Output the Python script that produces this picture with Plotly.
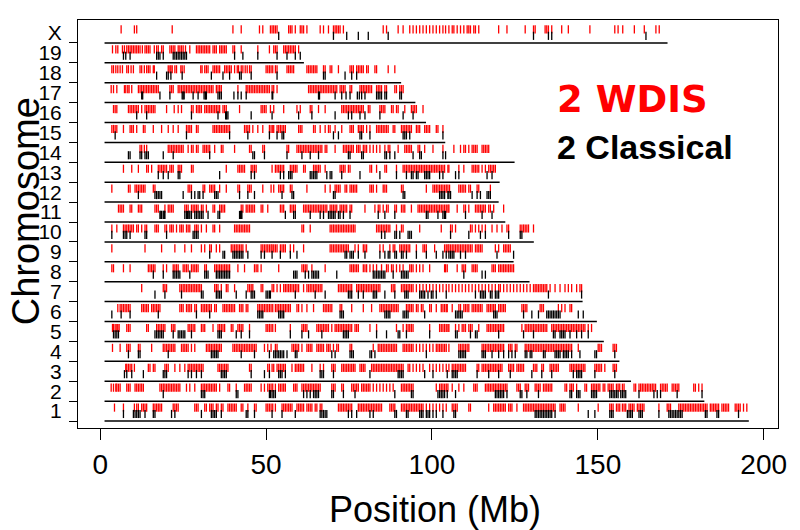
import plotly.graph_objects as go

CHROMS = ["1", "2", "3", "4", "5", "6", "7", "8", "9", "10",
          "11", "12", "13", "14", "15", "16", "17", "18", "19", "X"]
CHROM_LEN = [195.5, 182.1, 160.0, 156.5, 151.8, 149.7, 145.4, 129.4, 124.6, 130.7,
             122.1, 120.1, 120.4, 124.9, 104.0, 98.2, 95.0, 90.7, 61.4, 171.0]
START_MB = 1.3
X_TICKS = [0, 50, 100, 150, 200]

# ---- 2 WDIS (red) positions, Mb ----
W1 = [4.3, 7.0, 10.3, 11.0, 11.5, 12.5, 13.0, 13.5, 14.0, 16.0, 16.5, 17.0, 17.5, 18.0, 18.5, 22.0, 22.5, 23.0, 23.5,
      28.5, 29.0, 29.5, 31.5, 32.0, 33.0, 33.5, 34.0, 35.0, 35.5, 36.5, 37.0, 38.5, 39.0, 39.5, 40.0, 40.5, 41.0,
      42.5, 43.0, 44.5, 46.5, 47.0, 50.0, 50.5, 51.0, 51.5, 52.0, 52.8, 54.8, 55.3, 55.8, 56.3, 56.8, 57.3, 57.8,
      59.3, 59.8, 60.3, 60.8, 61.3, 62.3, 62.8, 63.3, 63.8, 64.8, 65.3, 66.3, 66.8, 71.8, 72.3, 72.8, 73.3, 73.8,
      74.3, 74.8, 75.3, 75.8, 77.8, 78.3, 78.8, 79.3, 79.8, 80.3, 80.8, 81.3, 81.8, 82.3, 82.8, 83.3, 83.8, 84.3,
      84.8, 87.3, 87.8, 88.3, 88.8, 90.8, 91.3, 91.8, 92.3, 92.8, 93.3, 93.8, 94.3, 94.8, 95.3, 95.8, 96.3, 96.8,
      97.3, 98.3, 99.3, 100.3, 101.3, 102.3, 103.3, 104.3, 106.1, 106.6, 107.1, 107.6, 111.1, 111.6, 117.1, 118.6,
      119.1, 119.6, 120.1, 120.6, 121.1, 121.6, 122.1, 123.1, 123.6, 124.1, 125.6, 127.6, 128.1, 128.6, 129.1,
      129.6, 130.1, 130.6, 131.1, 131.6, 132.1, 132.6, 133.1, 133.6, 134.1, 134.6, 135.1, 135.6, 136.1, 136.6,
      137.1, 138.6, 139.1, 139.6, 140.1, 144.1, 150.1, 153.6, 154.1, 154.6, 155.6, 156.1, 156.6, 157.4, 157.9,
      158.4, 159.4, 159.9, 160.4, 160.9, 161.9, 162.4, 162.9, 163.4, 163.9, 168.4, 170.9, 171.4, 171.9, 174.4,
      174.9, 175.4, 175.9, 176.4, 176.9, 177.4, 177.9, 178.4, 178.9, 179.4, 179.9, 180.4, 180.9, 181.4, 181.9,
      182.4, 182.9, 183.9, 184.4, 184.9, 185.4, 185.9, 186.4, 187.4, 187.9, 188.4, 188.9, 189.4, 191.4, 191.9,
      192.4, 192.9, 193.9, 194.9]
W2 = [3.3, 4.0, 4.7, 5.0, 5.5, 6.0, 8.0, 8.5, 9.0, 10.5, 11.0, 11.5, 12.0, 12.5, 13.0, 18.0, 18.5, 19.0, 19.5,
      20.0, 20.5, 21.0, 21.5, 22.0, 22.5, 23.0, 23.5, 24.0, 26.0, 27.0, 28.5, 30.5, 31.0, 31.5, 32.0, 32.5, 33.0,
      33.5, 34.0, 34.5, 35.0, 36.0, 38.5, 39.0, 41.0, 43.5, 44.0, 44.5, 45.0, 45.5, 48.5, 49.5, 50.5, 51.0, 51.5,
      52.0, 52.8, 53.8, 54.3, 54.8, 55.3, 55.8, 58.3, 58.8, 59.3, 60.8, 61.3, 61.8, 62.3, 62.8, 63.3, 63.8, 64.3,
      64.8, 65.3, 65.8, 66.3, 69.8, 70.3, 70.8, 72.8, 73.3, 75.8, 76.3, 76.8, 77.3, 77.8, 78.8, 79.3, 79.8, 80.3,
      80.8, 81.3, 82.3, 83.3, 84.3, 85.3, 86.3, 87.3, 88.3, 90.8, 91.3, 91.8, 92.3, 92.8, 93.3, 93.8, 94.3,
      101.3, 102.3, 102.8, 103.3, 103.8, 104.3, 104.8, 106.1, 108.1, 109.6, 112.6, 113.1, 113.6, 116.1, 116.6,
      117.1, 117.6, 118.1, 118.6, 119.1, 119.6, 120.1, 120.6, 121.1, 121.6, 122.1, 122.6, 125.6, 126.1, 126.6,
      128.1, 128.6, 129.1, 131.1, 131.6, 132.1, 132.6, 133.6, 134.1, 134.6, 135.1, 135.6, 136.1, 140.1, 140.6,
      141.6, 142.1, 142.6, 143.6, 146.1, 146.6, 148.1, 148.6, 149.1, 149.6, 150.1, 150.6, 151.6, 152.1, 153.1,
      153.6, 154.1, 154.6, 155.6, 156.1, 156.6, 157.4, 157.9, 160.9, 161.4, 162.4, 162.9, 163.4, 163.9, 164.4,
      164.9, 165.4, 165.9, 166.4, 166.9, 167.4, 168.9, 169.4, 169.9, 170.4, 170.9, 172.4, 172.9, 173.4, 173.9,
      174.4, 178.9, 179.4, 180.4, 181.4]
W3 = [7.7, 8.0, 8.5, 9.0, 9.5, 10.3, 14.5, 15.0, 16.0, 16.5, 19.5, 20.0, 20.5, 22.5, 24.0, 25.5, 26.5, 27.0, 27.5,
      28.0, 28.5, 29.0, 29.5, 30.0, 30.5, 31.0, 35.5, 36.0, 36.5, 37.0, 37.5, 38.0, 38.5, 45.0, 45.5, 50.5, 51.0,
      51.8, 52.3, 53.3, 53.8, 54.3, 54.8, 55.3, 55.8, 57.8, 58.8, 59.3, 59.8, 60.3, 60.8, 61.3, 63.8, 66.3, 67.3,
      69.8, 70.3, 70.8, 72.8, 73.3, 73.8, 74.3, 74.8, 75.3, 75.8, 76.3, 76.8, 78.3, 78.8, 79.3, 79.8, 81.8, 82.3,
      82.8, 83.3, 83.8, 84.3, 84.8, 85.3, 85.8, 86.3, 86.8, 87.3, 87.8, 88.3, 88.8, 89.3, 89.8, 90.3, 90.8, 91.3,
      92.8, 93.3, 94.3, 95.3, 96.3, 97.3, 99.3, 100.3, 101.3, 102.3, 103.3, 104.3, 105.1, 106.1, 106.6, 107.1,
      107.6, 108.1, 108.6, 109.1, 109.6, 110.1, 113.6, 114.1, 115.1, 115.6, 116.1, 116.6, 117.1, 117.6, 118.1,
      118.6, 119.1, 119.6, 120.1, 120.6, 121.1, 123.1, 123.6, 124.1, 124.6, 125.6, 126.1, 126.6, 127.1, 127.6,
      130.6, 131.1, 131.6, 133.1, 133.6, 135.6, 136.1, 136.6, 137.1, 137.6, 138.1, 141.6, 142.1, 142.6, 143.1,
      143.6, 144.1, 144.6, 145.1, 145.6, 146.1, 149.1, 149.6, 150.1, 150.6, 151.1, 152.1, 154.6, 155.1, 155.6]
W4 = [3.7, 6.0, 8.0, 8.5, 9.0, 11.5, 12.0, 15.5, 19.0, 19.5, 20.0, 20.5, 21.0, 21.5, 22.0, 22.5, 24.5, 25.0, 25.5,
      26.0, 26.5, 27.5, 28.5, 32.0, 32.5, 33.0, 33.5, 34.0, 34.5, 35.0, 35.5, 36.0, 36.5, 40.0, 40.5, 41.0, 41.5,
      42.0, 42.5, 43.0, 43.5, 44.0, 44.5, 45.0, 45.5, 46.0, 46.5, 47.0, 49.5, 50.5, 51.5, 52.8, 53.3, 57.8, 58.3,
      58.8, 59.3, 59.8, 60.8, 62.3, 62.8, 63.3, 63.8, 65.3, 65.8, 66.3, 66.8, 67.3, 68.3, 68.8, 69.3, 70.3, 71.3,
      71.8, 75.3, 75.8, 82.3, 83.8, 84.3, 84.8, 85.3, 85.8, 86.3, 86.8, 87.3, 87.8, 88.3, 88.8, 89.3, 91.3, 91.8,
      92.3, 92.8, 93.3, 93.8, 94.3, 95.3, 96.3, 97.3, 98.3, 99.3, 100.3, 101.3, 101.8, 102.3, 102.8, 103.3, 103.8,
      104.3, 105.1, 108.1, 108.6, 109.1, 109.6, 110.1, 110.6, 111.1, 115.1, 115.6, 116.1, 116.6, 117.1, 117.6,
      118.1, 118.6, 119.1, 119.6, 120.1, 120.6, 121.1, 121.6, 123.1, 123.6, 124.1, 125.1, 125.6, 128.1, 128.6,
      129.1, 129.6, 130.1, 130.6, 131.1, 131.6, 132.1, 132.6, 133.1, 133.6, 134.1, 134.6, 135.1, 135.6, 136.1,
      136.6, 137.1, 137.6, 138.1, 138.6, 139.1, 139.6, 140.1, 140.6, 141.1, 141.6, 142.1, 144.1, 150.1, 150.6,
      151.1, 154.6, 155.1, 155.6]
W5 = [3.7, 4.0, 4.5, 5.0, 5.3, 5.7, 8.0, 8.5, 9.0, 14.0, 14.5, 17.0, 17.5, 18.0, 18.5, 19.0, 19.5, 21.5, 22.0, 22.5,
      26.5, 27.0, 27.5, 28.0, 28.5, 30.5, 31.0, 31.5, 34.0, 35.5, 36.0, 36.5, 37.0, 37.5, 39.5, 40.0, 41.5, 42.0,
      42.5, 43.0, 45.0, 50.0, 50.5, 51.0, 51.5, 52.0, 52.8, 57.3, 60.8, 61.3, 61.8, 62.3, 65.3, 65.8, 66.3, 66.8,
      67.3, 67.8, 68.3, 68.8, 69.8, 70.8, 71.3, 71.8, 72.3, 72.8, 73.3, 73.8, 74.3, 74.8, 75.3, 75.8, 76.8, 77.3,
      77.8, 81.3, 83.3, 89.3, 91.3, 92.3, 92.8, 93.3, 93.8, 94.3, 99.3, 102.3, 102.8, 103.3, 103.8, 104.3, 104.8,
      105.1, 107.1, 108.1, 109.1, 109.6, 110.1, 111.1, 111.6, 112.1, 114.1, 116.6, 117.1, 117.6, 118.1, 118.6,
      119.1, 119.6, 120.1, 120.6, 121.1, 121.6, 127.1, 128.1, 128.6, 129.1, 129.6, 130.1, 130.6, 131.1, 131.6,
      132.1, 132.6, 133.1, 133.6, 134.1, 134.6, 136.1, 136.6, 137.1, 137.6, 138.1, 138.6, 139.1, 139.6, 140.1,
      140.6, 141.1, 141.6, 142.1, 142.6, 143.1, 143.6, 144.1, 144.6, 145.1, 145.6, 146.1, 147.1, 148.1]
W6 = [5.3, 6.0, 6.5, 7.0, 7.5, 8.0, 8.5, 9.0, 12.5, 13.0, 13.5, 14.0, 14.5, 15.5, 16.0, 16.5, 17.0, 17.5, 18.0, 24.0,
      24.5, 25.0, 26.0, 26.5, 27.0, 27.5, 28.5, 29.0, 30.5, 31.0, 31.5, 32.0, 32.5, 33.0, 33.5, 34.5, 35.0, 37.0,
      37.5, 38.0, 38.5, 39.0, 39.5, 40.0, 40.5, 42.0, 42.5, 43.0, 44.0, 44.5, 47.5, 48.0, 48.5, 49.0, 49.5, 50.0,
      50.5, 51.0, 51.5, 52.0, 52.8, 53.3, 53.8, 54.3, 54.8, 55.3, 55.8, 56.3, 56.8, 57.3, 59.3, 59.8, 60.8, 62.3,
      64.3, 67.3, 67.8, 68.3, 68.8, 69.3, 69.8, 72.3, 72.8, 75.8, 79.3, 81.8, 84.3, 84.8, 85.3, 85.8, 86.3, 86.8,
      87.3, 87.8, 88.3, 88.8, 89.3, 89.8, 92.3, 92.8, 93.3, 93.8, 94.3, 95.3, 95.8, 96.8, 97.3, 99.3, 99.8, 101.3,
      102.8, 103.3, 103.8, 104.3, 104.6, 106.1, 108.1, 108.6, 109.6, 110.1, 110.6, 111.1, 112.1, 112.6, 113.1,
      113.6, 114.1, 114.6, 115.1, 116.6, 117.1, 117.6, 118.1, 118.6, 119.1, 120.1, 120.6, 121.1, 121.6, 122.1,
      127.1, 127.6, 128.1, 128.6, 132.6, 133.1, 133.6, 138.1, 139.1, 140.1, 141.6, 142.1]
W7 = [12.5, 19.0, 19.5, 20.0, 24.0, 24.5, 25.0, 25.5, 26.0, 26.5, 27.0, 27.5, 28.0, 28.5, 29.0, 29.5, 30.0, 30.5,
      34.5, 35.0, 35.5, 36.5, 38.0, 38.5, 40.5, 44.5, 45.0, 45.5, 46.0, 48.5, 49.0, 51.8, 52.3, 53.3, 54.3, 55.3,
      55.8, 56.3, 56.8, 57.3, 57.8, 58.3, 58.8, 59.3, 59.8, 61.3, 62.3, 62.8, 63.3, 63.8, 64.3, 64.8, 65.3, 65.8,
      66.3, 66.8, 71.8, 72.3, 72.8, 73.3, 73.8, 74.3, 74.8, 75.3, 75.8, 77.3, 77.8, 78.3, 78.8, 79.3, 79.8, 80.3,
      80.8, 81.3, 81.8, 82.3, 82.8, 83.3, 83.8, 84.3, 87.8, 88.3, 88.8, 90.8, 91.3, 91.8, 92.3, 92.8, 93.3, 93.8,
      94.3, 95.3, 96.3, 97.3, 98.3, 99.3, 100.3, 101.3, 102.3, 103.3, 104.3, 105.1, 106.1, 107.1, 108.1, 109.1,
      110.1, 111.1, 112.1, 113.1, 114.1, 115.1, 116.1, 117.1, 118.1, 119.1, 120.1, 120.6, 121.6, 122.6, 123.6,
      124.6, 125.6, 126.6, 127.6, 128.6, 129.6, 130.6, 131.1, 131.6, 132.1, 132.6, 133.1, 133.6, 134.1, 134.6,
      135.6, 137.1, 138.6, 140.1, 141.1, 142.1, 143.6, 144.6, 145.1]
W8 = [3.5, 4.0, 7.0, 9.0, 14.5, 15.0, 15.5, 16.0, 16.5, 19.0, 20.0, 22.0, 22.5, 23.0, 23.5, 25.0, 25.5, 26.0, 26.5,
      27.5, 28.0, 28.5, 29.0, 29.5, 31.5, 32.0, 34.5, 35.0, 35.5, 36.0, 36.5, 37.0, 37.5, 38.0, 38.5, 39.0, 41.5,
      43.5, 46.5, 47.0, 47.5, 48.5, 53.8, 60.8, 61.3, 61.8, 62.3, 63.8, 67.8, 75.3, 75.8, 76.3, 76.8, 77.3, 77.8,
      79.3, 79.8, 80.3, 81.3, 82.3, 83.3, 84.8, 86.3, 86.8, 87.8, 88.3, 89.3, 90.3, 91.3, 93.3, 93.8, 94.3, 95.3,
      96.3, 97.3, 99.3, 103.8, 104.1, 104.6, 107.6, 109.1, 109.6, 110.1, 112.1, 112.6, 113.1, 113.6, 118.1, 118.6,
      119.1, 120.1, 120.6, 121.1, 121.6, 122.1, 122.6, 123.1, 123.6, 124.1, 124.6]
W9 = [3.5, 13.5, 18.5, 22.5, 25.5, 27.5, 30.5, 31.5, 33.0, 33.5, 35.0, 36.0, 39.5, 40.0, 40.5, 41.0, 41.5, 42.0,
      42.5, 43.0, 44.0, 48.5, 49.0, 49.5, 50.0, 50.5, 51.0, 51.5, 51.8, 52.3, 52.8, 53.3, 54.3, 54.8, 55.3, 55.8,
      57.3, 58.3, 61.3, 69.3, 69.8, 70.3, 70.8, 71.3, 71.8, 72.3, 72.8, 73.3, 73.8, 74.3, 74.8, 76.8, 77.8, 79.3,
      79.8, 80.3, 84.3, 85.3, 87.3, 88.3, 88.8, 90.3, 90.8, 91.3, 91.8, 92.3, 92.8, 93.3, 95.3, 97.3, 97.8, 98.3,
      100.8, 103.8, 104.3, 104.8, 105.1, 105.6, 106.1, 106.6, 107.1, 107.6, 108.1, 108.6, 109.1, 109.6, 110.1,
      110.6, 111.1, 111.6, 112.1, 113.1, 113.6, 114.1, 114.6, 115.1, 119.1, 120.1, 121.6, 122.1, 122.6, 123.1,
      123.6]
W10 = [3.5, 5.0, 7.0, 7.5, 8.0, 8.5, 9.0, 9.5, 10.0, 11.0, 11.5, 12.5, 13.5, 14.0, 16.5, 17.0, 17.5, 19.5, 20.0,
       21.0, 21.5, 22.0, 23.0, 24.0, 24.5, 25.0, 26.0, 26.5, 27.0, 28.5, 29.0, 29.5, 30.5, 32.0, 34.0, 34.5, 36.0,
       40.5, 41.0, 41.5, 42.0, 42.5, 43.0, 43.5, 44.0, 44.5, 45.0, 60.8, 61.3, 63.3, 69.3, 69.8, 70.3, 70.8, 71.3,
       71.8, 72.3, 72.8, 73.3, 73.8, 74.3, 74.8, 75.3, 75.8, 76.3, 76.8, 83.3, 83.8, 84.3, 84.8, 85.3, 85.8, 86.3,
       86.8, 87.3, 89.3, 90.8, 91.3, 96.3, 102.8, 105.6, 106.1, 107.1, 111.6, 112.1, 113.1, 114.1, 115.1, 116.1,
       118.1, 119.6, 121.1, 122.6, 123.1, 126.6, 127.1, 127.6, 128.1, 128.6, 129.1, 130.6]
W11 = [5.5, 6.0, 6.5, 7.0, 9.0, 9.5, 11.5, 12.0, 12.5, 16.5, 17.0, 17.5, 19.5, 20.5, 21.0, 21.5, 22.0, 25.5, 26.0,
       26.5, 27.5, 28.0, 28.5, 29.0, 29.5, 30.5, 31.0, 32.0, 34.0, 34.5, 36.0, 36.5, 37.0, 37.5, 42.5, 43.0, 44.0,
       44.5, 45.0, 45.5, 46.0, 46.5, 48.5, 49.0, 50.5, 54.3, 54.8, 55.3, 57.3, 57.8, 58.3, 58.8, 61.3, 61.8, 62.3,
       62.8, 63.3, 63.8, 64.3, 64.8, 65.3, 65.8, 66.3, 66.8, 67.3, 67.8, 68.3, 69.3, 69.8, 70.3, 70.8, 71.3, 72.3,
       72.8, 73.3, 73.8, 74.3, 75.3, 75.8, 79.8, 82.8, 83.8, 84.3, 85.3, 86.3, 86.8, 88.8, 89.3, 90.8, 91.3, 91.8,
       93.8, 95.8, 96.3, 96.8, 97.3, 97.8, 98.3, 98.8, 99.3, 99.8, 100.3, 100.8, 101.3, 101.8, 102.3, 102.8, 103.3,
       103.8, 104.3, 104.8, 105.1, 107.6, 109.6, 110.1, 111.1, 113.1, 113.6, 114.1, 114.6, 115.1, 115.6, 116.1,
       117.1, 117.6, 118.6, 121.6]
W12 = [3.5, 8.5, 9.0, 10.5, 11.0, 11.5, 12.0, 12.5, 13.0, 13.5, 16.0, 16.5, 26.5, 27.0, 27.5, 31.0, 31.5, 33.0,
       33.5, 34.0, 34.5, 36.0, 38.0, 41.5, 42.0, 44.5, 45.0, 45.5, 49.0, 51.5, 52.3, 53.8, 54.3, 54.8, 55.3, 57.3,
       57.8, 62.3, 67.8, 69.3, 70.8, 71.3, 71.8, 72.3, 73.8, 74.3, 75.3, 75.8, 76.3, 76.8, 77.3, 81.3, 81.8, 82.3,
       83.3, 85.3, 85.8, 86.3, 90.8, 91.3, 98.3, 100.3, 100.8, 101.3, 101.8, 102.3, 102.8, 103.3, 103.8, 104.3,
       104.8, 105.3, 108.1, 108.6, 109.1, 109.6, 110.1, 111.1, 111.6, 113.6, 114.1, 117.6]
W13 = [7.0, 9.5, 11.5, 14.0, 14.5, 15.5, 17.5, 18.0, 18.5, 19.0, 19.5, 20.0, 21.0, 21.5, 22.0, 23.5, 24.0, 24.5,
       27.5, 28.0, 38.0, 41.5, 42.0, 42.5, 43.0, 43.5, 45.5, 46.0, 46.5, 47.0, 51.8, 52.8, 53.3, 53.8, 54.3, 54.8,
       55.3, 57.3, 57.8, 58.3, 58.8, 59.3, 61.3, 61.8, 64.3, 64.8, 65.3, 65.8, 66.3, 67.8, 72.3, 72.8, 73.3, 73.8,
       74.8, 75.3, 81.3, 81.8, 83.3, 85.8, 86.3, 89.3, 91.3, 91.8, 92.3, 92.8, 93.3, 93.8, 94.3, 94.8, 95.3, 95.8,
       96.3, 96.8, 97.3, 97.8, 98.3, 98.8, 99.3, 99.8, 100.3, 100.8, 101.3, 101.8, 102.3, 102.8, 103.3, 103.8,
       104.8, 105.1, 108.1, 109.6, 112.1, 112.6, 113.1, 113.6, 114.1, 115.1, 116.1, 117.1, 117.6, 118.1, 118.6,
       119.1]
W14 = [12.0, 12.5, 13.3, 14.0, 20.5, 21.0, 21.5, 22.0, 22.5, 23.0, 23.5, 24.0, 24.5, 25.0, 26.5, 27.5, 28.0, 29.0,
       29.5, 31.0, 31.5, 32.0, 32.5, 33.0, 34.5, 36.5, 37.0, 40.5, 45.0, 45.5, 49.0, 49.5, 56.3, 56.8, 59.3, 59.8,
       60.3, 60.8, 61.3, 61.8, 62.3, 62.8, 63.3, 63.8, 64.3, 64.8, 65.3, 65.8, 66.3, 66.8, 67.8, 68.3, 70.8, 73.3,
       73.8, 74.3, 74.8, 75.3, 75.8, 76.3, 77.3, 77.8, 78.3, 79.3, 79.8, 80.3, 81.3, 82.3, 83.3, 84.3, 85.8, 86.8,
       87.3, 89.8, 91.8, 92.3, 92.8, 93.3, 93.8, 95.8, 96.3, 97.8, 100.3, 103.3, 106.6, 108.6, 109.6, 110.1, 111.1,
       112.1, 112.6, 113.1, 113.6, 115.1, 115.6, 116.1, 116.6, 117.1]
W15 = [3.5, 4.0, 4.5, 5.0, 7.0, 9.0, 9.5, 10.0, 11.0, 13.0, 13.5, 16.0, 18.5, 20.5, 22.0, 23.5, 26.0, 26.5, 27.0,
       27.5, 29.0, 29.5, 34.0, 34.5, 35.0, 35.5, 36.0, 36.5, 37.0, 37.5, 38.0, 38.5, 39.0, 43.5, 44.0, 44.5, 45.0,
       46.0, 47.5, 49.0, 51.0, 51.5, 52.0, 52.3, 53.3, 53.8, 54.3, 54.8, 55.3, 55.8, 59.8, 60.3, 60.8, 64.3, 64.8,
       66.3, 67.8, 68.8, 69.3, 70.8, 72.8, 75.3, 75.8, 76.3, 77.8, 78.3, 78.8, 79.3, 80.3, 81.3, 83.3, 83.8, 84.3,
       84.8, 85.3, 85.8, 86.3, 86.8, 88.3, 88.8, 90.8, 91.3, 91.8, 92.3, 92.8, 93.3, 93.8, 95.3, 95.8, 96.3, 97.8,
       98.3, 98.8, 99.3, 101.3, 101.8, 103.3]
W16 = [4.0, 4.5, 5.0, 8.5, 9.0, 9.5, 10.0, 10.5, 11.0, 11.5, 12.5, 13.5, 14.0, 14.5, 15.0, 15.5, 16.0, 16.5, 20.0,
       22.3, 23.5, 24.5, 27.5, 28.0, 29.0, 29.5, 30.0, 30.5, 31.5, 32.0, 32.5, 33.0, 33.5, 34.0, 34.5, 35.0, 35.5,
       36.0, 37.0, 37.5, 38.0, 42.0, 48.5, 49.0, 49.5, 50.0, 51.3, 52.3, 55.3, 59.3, 60.3, 63.3, 63.8, 65.8, 67.8,
       72.8, 73.3, 73.8, 74.3, 74.8, 75.3, 75.8, 76.3, 76.8, 77.3, 77.8, 78.3, 78.8, 79.3, 80.8, 81.3, 84.3, 84.8,
       85.3, 85.8, 87.8, 88.3, 89.3, 89.8, 91.8, 93.8, 94.3, 94.8, 95.3, 97.3]
W17 = [3.3, 4.0, 5.0, 7.3, 7.7, 8.3, 8.7, 9.5, 11.5, 12.0, 12.5, 13.0, 13.5, 14.0, 14.5, 15.0, 15.5, 16.0, 16.5,
       17.0, 17.5, 21.0, 21.5, 22.0, 23.5, 24.0, 24.5, 25.0, 25.5, 26.0, 26.5, 27.0, 27.5, 28.0, 28.5, 29.0, 29.5,
       30.0, 30.5, 31.0, 31.5, 32.0, 32.5, 33.0, 33.5, 34.0, 35.0, 35.5, 36.0, 36.5, 41.5, 44.0, 44.5, 45.0, 45.5,
       46.0, 46.5, 47.0, 47.5, 48.0, 48.5, 49.0, 49.5, 50.0, 50.5, 51.0, 51.8, 52.3, 53.3, 62.8, 63.3, 63.8, 64.3,
       64.8, 65.3, 65.8, 66.3, 66.8, 67.3, 67.8, 68.3, 68.8, 69.3, 69.8, 70.3, 70.8, 71.3, 72.3, 72.8, 73.3, 73.8,
       75.3, 75.8, 78.3, 78.8, 79.3, 79.8, 80.3, 80.8, 81.3, 81.8, 83.3, 83.8, 84.3, 84.8, 85.8, 86.3, 88.8, 89.3,
       90.3, 90.8, 91.3]
W18 = [3.5, 4.0, 4.7, 5.3, 6.0, 6.7, 8.0, 8.5, 9.3, 10.0, 12.0, 12.5, 13.3, 14.0, 14.5, 15.0, 16.0, 16.3, 20.5,
       21.0, 21.3, 21.7, 22.5, 23.0, 24.3, 24.7, 25.3, 30.3, 30.7, 31.5, 32.0, 32.5, 34.0, 34.5, 35.0, 35.5, 36.0,
       37.5, 38.0, 38.5, 39.0, 39.5, 40.5, 41.3, 41.7, 42.5, 43.0, 43.7, 44.3, 45.0, 45.5, 50.0, 50.5, 51.0, 51.5,
       52.0, 52.8, 53.3, 56.3, 56.8, 57.3, 57.8, 58.3, 62.3, 62.8, 63.3, 63.8, 64.3, 64.8, 65.3, 67.3, 67.8, 69.3,
       69.8, 71.8, 75.3, 75.8, 76.3, 77.3, 77.8, 78.3, 78.8, 79.3, 80.3, 80.8, 82.8, 83.3, 86.8, 88.8]
W19 = [3.7, 4.7, 5.3, 6.7, 7.3, 8.0, 8.5, 9.0, 9.5, 10.0, 10.5, 11.0, 11.5, 12.0, 12.7, 13.5, 14.0, 14.5, 15.0,
       16.3, 17.0, 17.5, 18.5, 19.0, 21.0, 21.5, 22.0, 22.5, 23.5, 24.0, 24.5, 25.0, 25.7, 27.0, 29.0, 29.5, 30.0,
       30.5, 31.0, 31.5, 32.0, 32.5, 33.0, 34.0, 34.5, 35.0, 36.0, 36.5, 37.0, 37.5, 38.0, 40.0, 40.5, 42.5, 47.5,
       51.0, 52.3, 52.8, 53.3, 55.3, 55.8, 56.3, 56.8, 57.3, 57.8, 58.3, 58.8, 59.8]
WX = [6.3, 10.3, 11.0, 21.7, 40.0, 42.5, 48.0, 49.0, 51.3, 51.8, 52.3, 52.8, 53.3, 56.8, 57.3, 57.8, 58.8, 60.3,
      60.8, 61.3, 62.3, 66.3, 67.3, 68.8, 70.3, 70.8, 71.3, 71.8, 72.3, 73.3, 85.3, 86.3, 89.8, 91.3, 93.3, 94.3,
      95.3, 96.3, 97.3, 98.3, 99.3, 100.3, 101.3, 102.3, 103.3, 104.1, 105.1, 106.1, 106.6, 107.6, 108.6, 109.6,
      110.6, 111.1, 111.6, 112.6, 113.1, 114.1, 120.1, 122.6, 128.1, 130.6, 131.1, 134.1, 134.6, 135.1, 136.1,
      139.1, 141.1, 147.6, 155.1, 156.1, 157.5, 161.0, 164.0, 167.5, 168.5]

# ---- 2 Classical (black) positions, Mb ----
C1 = [7.0, 10.0, 10.5, 11.0, 11.5, 12.0, 13.5, 16.0, 16.5, 21.5, 22.5, 30.5, 33.5, 34.0, 34.5, 35.0, 36.5, 44.0,
      44.5, 46.5, 51.8, 54.8, 58.8, 66.3, 66.8, 67.3, 67.8, 68.3, 74.8, 75.8, 77.3, 81.3, 82.3, 88.8, 89.3, 92.3,
      92.8, 96.3, 96.8, 97.3, 98.3, 98.8, 99.3, 100.3, 101.3, 103.3, 106.6, 107.1, 131.1, 131.6, 132.1, 132.6,
      133.1, 133.6, 134.1, 134.6, 135.1, 135.6, 136.1, 137.1, 147.1, 149.1, 153.6, 154.1, 154.6, 158.9, 159.4,
      159.9, 160.4, 162.4, 162.9, 163.4, 168.4, 171.4, 171.9, 172.4, 172.9, 173.4, 173.9, 174.4, 174.9, 175.4,
      182.4, 182.9, 185.9, 186.4, 192.4]
C2 = [19.0, 30.5, 31.0, 31.5, 41.0, 41.5, 51.0, 51.3, 51.8, 52.3, 52.8, 61.3, 62.3, 63.3, 64.3, 64.8, 65.3, 65.8,
      69.8, 70.3, 73.3, 76.8, 88.8, 93.8, 94.3, 101.8, 102.3, 102.8, 103.3, 103.8, 104.6, 107.1, 119.1, 119.6,
      120.1, 120.6, 121.1, 121.6, 122.6, 126.6, 127.1, 128.6, 132.1, 141.6, 142.1, 143.6, 144.1, 144.6, 148.1,
      148.6, 149.1, 149.6, 153.6, 154.1, 154.6, 155.1, 155.6, 156.1, 156.9, 157.4, 157.9, 158.4, 162.4, 166.9,
      167.9, 168.9, 173.9, 181.4]
C3 = [7.3, 8.0, 9.5, 13.0, 19.0, 19.5, 20.0, 26.5, 27.5, 29.0, 30.5, 36.5, 37.0, 37.5, 38.0, 45.5, 49.5, 51.0,
      53.8, 54.3, 54.8, 55.8, 66.3, 66.8, 67.3, 70.3, 81.3, 89.8, 90.3, 90.8, 91.3, 97.8, 100.3, 104.6, 106.1,
      106.6, 107.1, 107.6, 113.6, 117.1, 120.1, 123.6, 130.1, 133.1, 136.1, 142.6, 143.6, 144.1, 144.6, 145.1,
      149.1, 155.1]
C4 = [8.5, 11.5, 12.0, 20.5, 33.5, 34.0, 34.5, 35.0, 35.5, 42.5, 46.5, 51.0, 52.3, 52.8, 53.3, 53.8, 54.3, 54.8,
      55.3, 56.3, 58.8, 59.3, 69.8, 70.8, 75.3, 75.8, 76.3, 81.3, 81.8, 82.8, 98.3, 108.1, 108.6, 109.1, 109.6,
      110.1, 115.1, 115.6, 116.1, 118.1, 120.1, 121.6, 123.1, 124.1, 125.1, 128.1, 128.6, 129.6, 130.1, 133.6,
      134.1, 137.1, 137.6, 138.1, 138.6, 139.6, 140.1, 140.6, 141.1, 142.1, 144.6, 149.1, 149.6, 155.1]
C5 = [4.0, 4.5, 5.0, 5.5, 16.5, 17.0, 17.5, 18.0, 18.5, 19.0, 22.0, 23.5, 24.0, 24.5, 25.0, 25.5, 27.5, 35.5, 36.0,
      36.5, 41.0, 42.5, 45.0, 57.3, 60.8, 62.8, 66.8, 73.3, 73.8, 74.3, 74.8, 83.3, 86.3, 89.8, 90.3, 92.3, 99.3,
      107.1, 107.6, 111.6, 113.1, 113.6, 120.1, 127.6, 130.6, 136.6, 137.1, 138.6, 139.1, 139.6, 140.1, 141.6,
      143.6, 145.1, 147.1]
C6 = [3.5, 6.3, 9.0, 17.5, 29.0, 33.0, 47.5, 48.0, 48.5, 49.0, 53.8, 54.3, 54.8, 55.3, 72.3, 72.8, 73.3, 85.8,
      86.3, 86.8, 87.3, 91.3, 91.8, 92.3, 92.8, 97.8, 107.1, 107.6, 108.1, 108.6, 109.1, 118.6, 119.1, 119.6,
      127.6, 130.1, 132.1, 134.6, 135.1, 135.6, 136.1, 136.6, 137.1, 137.6, 138.1, 138.6, 144.1, 145.6]
C7 = [16.5, 19.5, 24.5, 30.5, 31.0, 35.0, 35.5, 36.0, 36.5, 41.0, 44.0, 45.5, 46.0, 46.5, 50.0, 50.5, 51.0, 51.3,
      58.8, 64.8, 67.8, 74.8, 75.3, 75.8, 77.8, 79.3, 82.3, 82.8, 83.3, 85.8, 88.8, 91.8, 92.3, 92.8, 96.3, 96.8,
      97.3, 97.8, 98.8, 99.8, 100.3, 101.3, 104.3, 113.1, 114.6, 115.1, 115.6, 116.1, 117.6, 118.1, 119.1, 119.6,
      120.1, 135.1, 145.1]
C8 = [16.0, 19.0, 22.0, 22.5, 23.0, 23.5, 24.0, 27.0, 31.5, 32.0, 32.5, 35.0, 35.5, 36.0, 36.5, 37.0, 37.5, 38.0,
      38.5, 39.0, 58.3, 58.8, 59.3, 61.8, 62.8, 63.8, 64.3, 64.8, 65.3, 65.8, 71.3, 82.3, 82.8, 83.3, 83.8, 84.3,
      84.8, 85.3, 85.8, 88.3, 90.8, 91.3, 91.8, 92.3, 92.8, 109.6, 115.1, 116.1]
C9 = [33.0, 37.0, 37.5, 40.0, 40.5, 41.0, 41.5, 42.0, 42.5, 43.0, 44.5, 48.5, 49.5, 51.8, 54.3, 57.3, 59.3, 73.8,
      74.3, 75.3, 75.8, 76.3, 77.8, 79.8, 84.3, 85.8, 86.8, 87.3, 88.8, 89.3, 90.8, 91.3, 92.3, 95.3, 98.3, 101.3,
      103.3, 104.3, 105.1, 105.6, 106.1, 106.6, 108.6, 110.1, 119.6, 124.6]
C10 = [3.5, 7.0, 7.5, 8.0, 9.0, 13.5, 14.0, 20.0, 28.0, 28.5, 29.0, 29.5, 84.8, 85.8, 88.8, 89.3, 90.3, 92.8, 93.3,
       93.8, 105.6, 111.1, 114.6, 116.1, 123.1, 126.6, 127.1]
C11 = [18.0, 18.3, 18.5, 19.0, 19.3, 19.5, 25.5, 26.0, 26.3, 26.7, 27.0, 27.5, 28.5, 29.0, 29.5, 30.0, 30.5, 31.0,
       32.5, 35.5, 36.0, 42.0, 42.3, 42.5, 42.7, 55.8, 58.3, 58.8, 63.3, 66.3, 67.3, 68.8, 69.3, 69.8, 70.3, 70.8,
       71.8, 72.3, 73.3, 75.3, 83.8, 85.8, 88.8, 98.3, 98.8, 101.8, 103.3, 103.8, 104.1, 110.1, 115.1, 118.1]
C12 = [11.5, 16.5, 17.0, 17.5, 18.0, 18.5, 25.0, 27.5, 28.5, 29.5, 30.0, 31.0, 34.5, 35.0, 35.5, 42.0, 44.5, 46.5,
       54.8, 57.8, 58.3, 70.3, 70.8, 91.3, 91.8, 102.3, 102.8, 103.3, 103.8, 104.8, 105.1, 105.6, 112.1, 113.6,
       114.6, 116.6, 117.1, 117.6]
C13 = [17.5, 19.0, 20.5, 23.5, 24.0, 36.0, 45.5, 46.5, 54.3, 55.3, 56.8, 57.3, 57.8, 63.3, 63.8, 64.3, 64.8, 65.3,
       68.3, 69.3, 69.8, 72.8, 78.3, 84.3, 89.3, 92.3, 93.8, 94.3, 95.3, 95.8, 97.8, 98.3, 98.8, 99.3, 102.3, 103.3,
       107.1, 108.1, 116.6, 118.1]
C14 = [8.5, 9.0, 12.0, 12.5, 13.5, 14.0, 14.5, 19.0, 22.0, 33.0, 46.0, 46.5, 49.5, 56.3, 60.8, 63.3, 65.8, 74.8,
       75.3, 78.8, 79.3, 85.8, 86.3, 87.3, 88.8, 94.3, 96.3, 96.8, 103.3, 104.1]
C15 = [4.5, 26.0, 39.0, 44.5, 51.0, 53.3, 54.8, 55.3, 70.3, 71.8, 78.3, 78.8, 81.3, 91.3, 91.8, 92.3, 93.3, 103.3]
C16 = [11.0, 14.0, 27.5, 35.5, 37.8, 38.1, 38.5, 45.5, 51.8, 59.8, 63.8, 70.8, 74.8, 75.8, 78.3, 79.8, 84.3, 91.3,
       94.3]
C17 = [12.5, 12.8, 18.0, 21.0, 24.7, 25.0, 25.3, 28.0, 29.5, 31.3, 31.7, 32.0, 35.5, 36.0, 36.5, 40.3, 41.5, 42.5,
       44.0, 51.8, 52.0, 65.8, 66.1, 70.8, 72.8, 74.1, 75.3, 77.5, 78.1, 78.8, 79.8, 83.3, 83.8, 84.3, 84.8, 85.8,
       86.3, 90.3, 90.8]
C18 = [17.0, 20.0, 20.5, 21.3, 24.7, 33.5, 37.0, 39.0, 42.0, 42.5, 45.5, 53.3, 67.3, 67.8, 73.8, 75.8, 77.3]
C19 = [7.0, 7.7, 9.0, 17.0, 17.5, 18.0, 19.0, 22.0, 22.5, 23.0, 23.5, 24.0, 24.5, 25.0, 25.5, 26.0, 40.5, 43.0,
       47.5, 53.3, 56.3, 58.8, 60.3]
CX = [53.8, 70.3, 74.3, 77.8, 80.8, 86.8, 130.6, 135.1, 136.1, 164.5]

WDIS = [W1, W2, W3, W4, W5, W6, W7, W8, W9, W10, W11, W12, W13, W14, W15, W16, W17, W18, W19, WX]
CLASSICAL = [C1, C2, C3, C4, C5, C6, C7, C8, C9, C10, C11, C12, C13, C14, C15, C16, C17, C18, C19, CX]


def tick_segments(series, lo, hi):
    xs, ys = [], []
    for row, vals in enumerate(series, start=1):
        for v in vals:
            xs += [v, v, None]
            ys += [row + lo, row + hi, None]
    return xs, ys


rx, ry = tick_segments(WDIS, 0.47, 0.88)
bx, by = tick_segments(CLASSICAL, 0.15, 0.56)

lx, ly = [], []
for row, L in enumerate(CHROM_LEN, start=1):
    lx += [START_MB, L, None]
    ly += [row, row, None]

fig = go.Figure()
fig.add_trace(go.Scatter(x=rx, y=ry, mode="lines", line=dict(color="#ff0000", width=1.3),
                         hoverinfo="skip", showlegend=False))
fig.add_trace(go.Scatter(x=bx, y=by, mode="lines", line=dict(color="#000000", width=1.3),
                         hoverinfo="skip", showlegend=False))
fig.add_trace(go.Scatter(x=lx, y=ly, mode="lines", line=dict(color="#000000", width=1.5),
                         hoverinfo="skip", showlegend=False, yaxis="y2"))

FONT = "Liberation Sans, Arial, sans-serif"
YR = [0.65, 21.15]

fig.update_layout(
    width=800, height=530,
    margin=dict(l=78, r=22, t=20, b=102, autoexpand=False),
    paper_bgcolor="white", plot_bgcolor="white",
    font=dict(family=FONT, color="black"),
    xaxis=dict(range=[-6.7, 204.3], tickvals=X_TICKS, ticks="outside", ticklen=11, tickwidth=1,
               tickcolor="black", showline=True, mirror=True, linecolor="black", linewidth=1,
               showgrid=False, zeroline=False, automargin=False, tickfont=dict(size=28, family=FONT)),
    yaxis=dict(range=YR, tickvals=list(range(1, 21)), ticktext=[""] * 20, ticks="outside", ticklen=8,
               tickwidth=1, tickcolor="black", showline=True, mirror=True, linecolor="black",
               linewidth=1, showgrid=False, zeroline=False, automargin=False),
    yaxis2=dict(range=YR, overlaying="y", side="left", tickvals=[i + 0.5 for i in range(1, 21)],
                ticktext=CHROMS, ticks="outside", ticklen=11, tickcolor="rgba(0,0,0,0)",
                showline=False, showgrid=False, zeroline=False, automargin=False,
                tickfont=dict(size=21, family=FONT)),
    annotations=[
        dict(text="Position (Mb)", xref="paper", yref="paper", x=0.51, y=-0.2, xanchor="center",
             yanchor="middle", showarrow=False, font=dict(size=36, family=FONT)),
        dict(text="Chromosome", xref="paper", yref="paper", x=-0.075, y=0.53, xanchor="center",
             yanchor="middle", textangle=-90, showarrow=False, font=dict(size=38, family=FONT)),
        dict(text="<b>2 WDIS</b>", xref="paper", yref="paper", x=0.681, y=0.804, xanchor="left",
             yanchor="middle", showarrow=False,
             font=dict(size=37, family="DejaVu Sans, sans-serif", color="#ff0000")),
        dict(text="<b>2 Classical</b>", xref="paper", yref="paper", x=0.681, y=0.689, xanchor="left",
             yanchor="middle", showarrow=False, font=dict(size=34, family=FONT, color="#000000")),
    ],
)

fig.write_html("out.html", config={"displayModeBar": False, "staticPlot": True},
               post_script="document.body.style.margin='0px';")
